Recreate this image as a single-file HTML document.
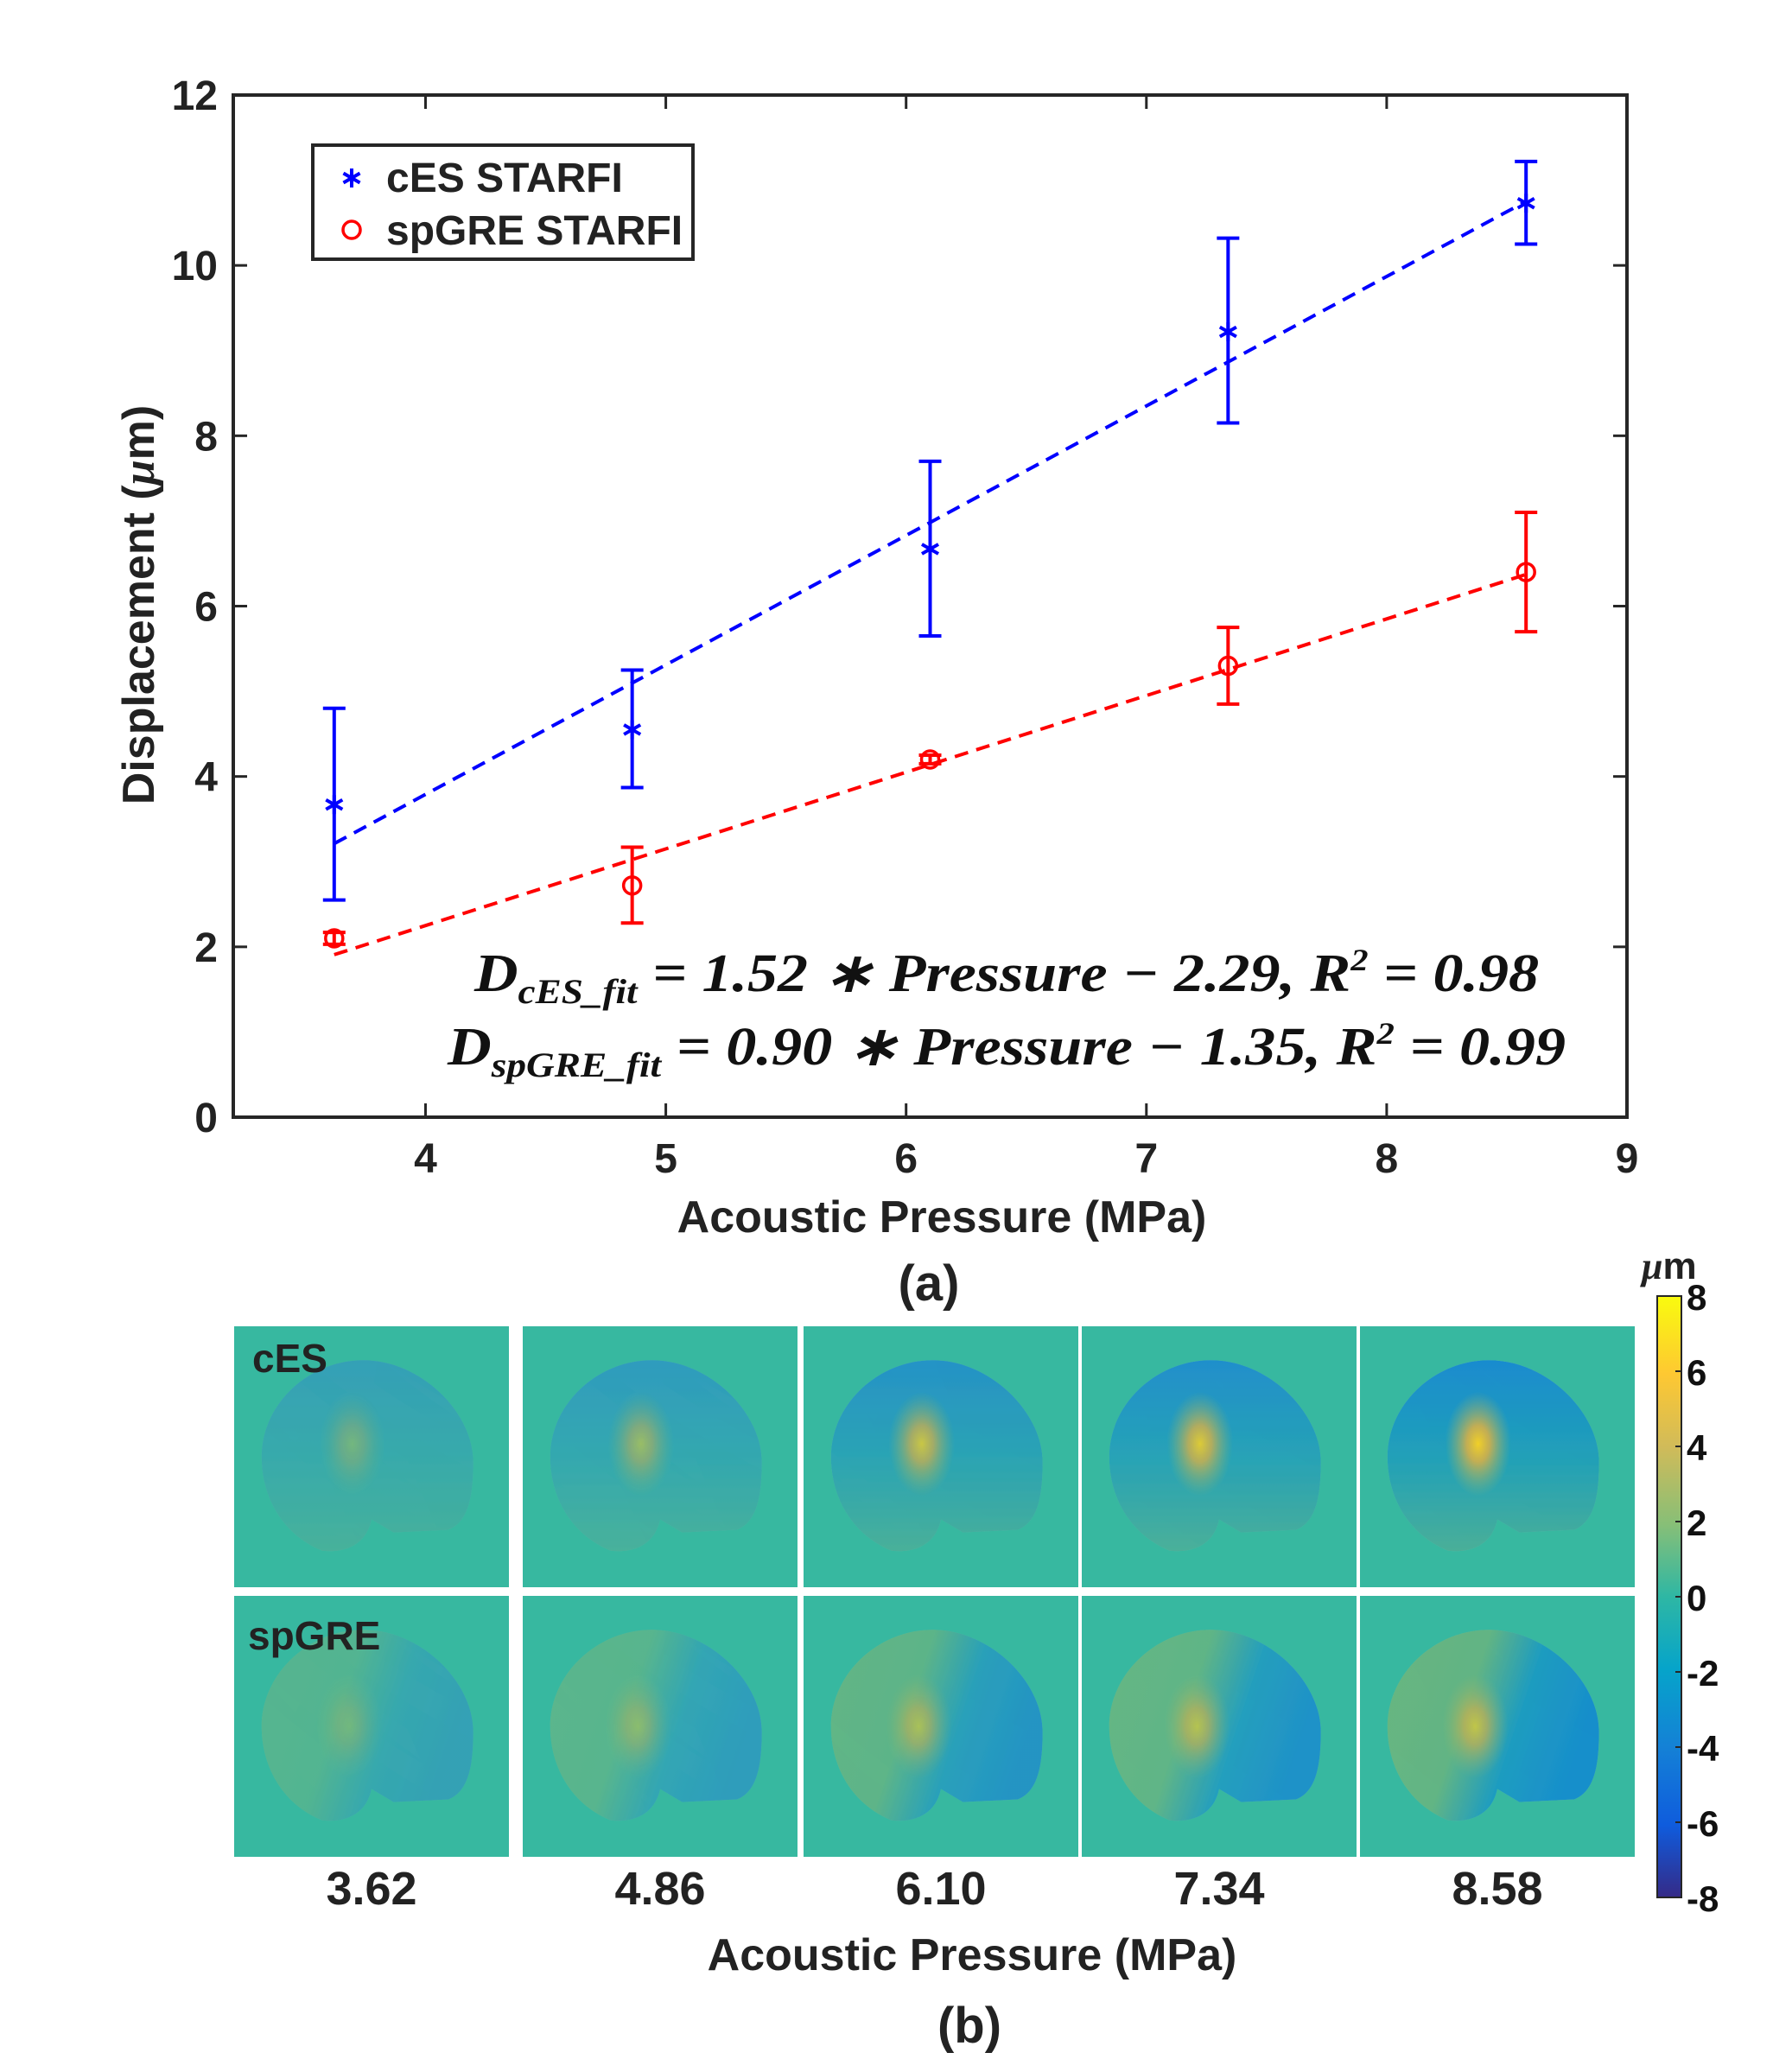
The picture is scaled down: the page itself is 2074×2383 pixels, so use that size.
<!DOCTYPE html>
<html><head><meta charset="utf-8">
<style>
html,body{margin:0;padding:0;background:#fff;}
svg{display:block;}
text{font-family:"Liberation Sans",Arial,sans-serif;font-weight:bold;fill:#222;}
.eq{font-family:"Liberation Serif",serif;font-style:italic;font-weight:bold;fill:#111;}
.cb{font-family:"Liberation Sans",sans-serif;font-weight:bold;fill:#111;}
</style></head>
<body>
<svg id="fig" width="2074" height="2383" viewBox="0 0 2074 2383" xmlns="http://www.w3.org/2000/svg">
<defs>
<linearGradient id="parula" x1="0" y1="1" x2="0" y2="0">
<stop offset="0" stop-color="#352a87"/><stop offset="0.12" stop-color="#0f5cdd"/>
<stop offset="0.25" stop-color="#1481d6"/><stop offset="0.38" stop-color="#06a4ca"/>
<stop offset="0.5" stop-color="#2eb7a4"/><stop offset="0.62" stop-color="#87bf77"/>
<stop offset="0.75" stop-color="#d1bb59"/><stop offset="0.87" stop-color="#fec832"/>
<stop offset="1" stop-color="#f9fb0e"/></linearGradient>
<radialGradient id="hot" cx="0.5" cy="0.5" r="0.5">
<stop offset="0" stop-color="#fbd92a"/><stop offset="0.35" stop-color="#e8b845" stop-opacity="0.85"/>
<stop offset="1" stop-color="#9cc070" stop-opacity="0"/></radialGradient>
<linearGradient id="sp" x1="0" y1="0" x2="1" y2="0.3">
<stop offset="0" stop-color="#6dbd86"/><stop offset="0.45" stop-color="#66bc8a"/><stop offset="0.7" stop-color="#1fa3c8"/><stop offset="1" stop-color="#1995d4"/></linearGradient>
<linearGradient id="ce" x1="0" y1="0" x2="0" y2="1">
<stop offset="0" stop-color="#1a92d8"/><stop offset="0.5" stop-color="#22a7c0"/><stop offset="1" stop-color="#4db69e"/></linearGradient>
<filter id="noise" x="0" y="0" width="100%" height="100%">
<feTurbulence type="fractalNoise" baseFrequency="0.12" numOctaves="1" seed="3" result="t"/>
<feColorMatrix type="saturate" values="0" in="t" result="g"/>
<feComponentTransfer in="g" result="a"><feFuncA type="linear" slope="0.35"/></feComponentTransfer>
<feComposite in="a" in2="SourceGraphic" operator="in" result="n"/>
<feBlend in="SourceGraphic" in2="n" mode="multiply"/>
</filter>
</defs>
<g id="chartA"></g>
<g id="chartB"></g>
</svg>
<script>
const NS='http://www.w3.org/2000/svg';
const pressures=[3.62,4.86,6.10,7.34,8.58];
const cesMean=[3.67,4.55,6.67,9.22,10.73];
const cesLow=[2.55,3.87,5.65,8.15,10.25];
const cesHigh=[4.80,5.25,7.70,10.32,11.22];
const spMean=[2.10,2.72,4.20,5.30,6.40];
const spLow=[2.03,2.28,4.15,4.85,5.70];
const spHigh=[2.17,3.17,4.25,5.75,7.10];
const fitSlope=[1.52,0.90];
const fitIntercept=[-2.29,-1.35];
const xTicks=[4,5,6,7,8,9];
const yTicks=[0,2,4,6,8,10,12];
const cbTicks=[8,6,4,2,0,-2,-4,-6,-8];
const mapLabels=['3.62','4.86','6.10','7.34','8.58'];
const hotStrength=[0.35,0.55,0.8,0.9,1.0];

const L=270,R=1883,T=110,B=1293,X0=3.2,X1=9,Y0=0,Y1=12;
const sx=v=>L+(v-X0)/(X1-X0)*(R-L);
const sy=v=>B-(v-Y0)/(Y1-Y0)*(B-T);
function el(tag,attrs,parent,txt){const e=document.createElementNS(NS,tag);for(const k in attrs)e.setAttribute(k,attrs[k]);if(txt!==undefined)e.textContent=txt;parent.appendChild(e);return e;}
const A=document.getElementById('chartA');
let e;
e=el('rect',{x:L,y:T,width:R-L,height:B-T,fill:'none',stroke:'#262626','stroke-width':4},A);


xTicks.forEach(v=>{
  e=el('line',{x1:sx(v),x2:sx(v),y1:B,y2:B-16,stroke:'#262626','stroke-width':3},A);
  
  
  el('line',{x1:sx(v),x2:sx(v),y1:T,y2:T+16,stroke:'#262626','stroke-width':3},A);
  e=el('text',{x:sx(v),y:B+64,'font-size':48,'text-anchor':'middle'},A,String(v));
  
  
});
yTicks.forEach(v=>{
  e=el('line',{x1:L,x2:L+16,y1:sy(v),y2:sy(v),stroke:'#262626','stroke-width':3},A);
  
  
  el('line',{x1:R,x2:R-16,y1:sy(v),y2:sy(v),stroke:'#262626','stroke-width':3},A);
  e=el('text',{x:L-18,y:sy(v)+17,'font-size':48,'text-anchor':'end'},A,String(v));
  
  
});
e=el('text',{x:1090,y:1426,'font-size':52,'text-anchor':'middle'},A,'Acoustic Pressure (MPa)');


e=el('text',{x:0,y:0,'font-size':52,'text-anchor':'middle',transform:'translate(178,700) rotate(-90)'},A,'');


el('tspan',{},e,'Displacement (');
el('tspan',{'font-family':'Liberation Serif, serif','font-style':'italic'},e,'μ');
el('tspan',{},e,'m)');
[[cesMean,'#0000ff',0],[spMean,'#ff0000',1]].forEach(([m,c,i])=>{
  const xa=pressures[0],xb=pressures[4];
  e=el('line',{x1:sx(xa),y1:sy(fitSlope[i]*xa+fitIntercept[i]),x2:sx(xb),y2:sy(fitSlope[i]*xb+fitIntercept[i]),stroke:c,'stroke-width':4,'stroke-dasharray':'16 10'},A);
  
  
});
function errbars(mean,lo,hi,c,name){
  pressures.forEach((p,i)=>{
    const x=sx(p);
    const g=el('g',{},A);
    
    
    el('line',{x1:x,x2:x,y1:sy(lo[i]),y2:sy(hi[i]),stroke:c,'stroke-width':4},g);
    el('line',{x1:x-13,x2:x+13,y1:sy(lo[i]),y2:sy(lo[i]),stroke:c,'stroke-width':4},g);
    el('line',{x1:x-13,x2:x+13,y1:sy(hi[i]),y2:sy(hi[i]),stroke:c,'stroke-width':4},g);
  });
}
errbars(cesMean,cesLow,cesHigh,'#0000ff','ces');
errbars(spMean,spLow,spHigh,'#ff0000','spgre');
function star(x,y,g,r){[0,60,120].forEach(a=>{const t=a*Math.PI/180;el('line',{x1:x-r*Math.sin(t),y1:y-r*Math.cos(t),x2:x+r*Math.sin(t),y2:y+r*Math.cos(t),stroke:'#0000ff','stroke-width':4},g);});}
pressures.forEach((p,i)=>{
  const g=el('g',{},A);
  
  
  star(sx(p),sy(cesMean[i]),g,11);
  e=el('circle',{cx:sx(p),cy:sy(spMean[i]),r:10,fill:'none',stroke:'#ff0000','stroke-width':3.5},A);
  
  
});
const lg=el('g',{},A);


el('rect',{x:362,y:168,width:440,height:132,fill:'#fff',stroke:'#262626','stroke-width':4},lg);
star(407,206,lg,11);
el('circle',{cx:407,cy:266,r:10,fill:'none',stroke:'#ff0000','stroke-width':3.5},lg);
el('text',{x:447,y:222,'font-size':48,fill:'#000'},lg,'cES STARFI');
el('text',{x:447,y:283,'font-size':48,fill:'#000'},lg,'spGRE STARFI');
function eq(x,y,len,sub,rest,name){
  const t=el('text',{x:x,y:y,'font-size':62,class:'eq',textLength:len,lengthAdjust:'spacingAndGlyphs'},A);
  
  
  el('tspan',{},t,'D');
  el('tspan',{'font-size':40,dy:14},t,sub);
  el('tspan',{dy:-14},t,rest[0]);
  el('tspan',{'font-size':36,dy:-24},t,'2');
  el('tspan',{dy:24},t,rest[1]);
}
eq(549,1147,1232,'cES_fit',[' = 1.52 ∗ Pressure − 2.29, R',' = 0.98'],'ces-fit-equation');
eq(518,1232,1294,'spGRE_fit',[' = 0.90 ∗ Pressure − 1.35, R',' = 0.99'],'spgre-fit-equation');
e=el('text',{x:1075,y:1505,'font-size':58,'text-anchor':'middle',fill:'#000'},A,'(a)');



const Bg=document.getElementById('chartB');
const colX=[271,605,930,1252,1574];
const rowY=[1535,1847];
const PW=318,PH=302;
const brain='M0.47,0.13 C0.68,0.13 0.87,0.33 0.87,0.52 C0.87,0.66 0.85,0.75 0.78,0.78 L0.58,0.79 L0.5,0.74 C0.48,0.84 0.4,0.87 0.32,0.86 C0.18,0.8 0.1,0.66 0.1,0.5 C0.1,0.3 0.27,0.13 0.47,0.13 Z';
rowY.forEach((ry,r)=>{
  colX.forEach((cx,c)=>{
    const g=el('g',{transform:`translate(${cx},${ry})`},Bg);
    
    
    el('rect',{x:0,y:0,width:PW,height:PH,fill:'#37b8a0'},g);
    const inner=el('g',{transform:`scale(${PW},${PH})`,filter:'url(#noise)'},g);
    el('path',{d:brain,fill:r?'url(#sp)':'url(#ce)','fill-opacity':0.55+0.45*hotStrength[c]},inner);
    el('path',{d:brain,fill:'#3ab49c','fill-opacity':0.45*(1-hotStrength[c])},inner);
    const s=hotStrength[c]*(r?0.7:1);
    el('ellipse',{cx:r?0.42:0.43,cy:r?0.5:0.45,rx:0.12,ry:0.2,fill:'url(#hot)',opacity:s},inner);
  });
});
e=el('text',{x:292,y:1588,'font-size':46,fill:'#000'},Bg,'cES');


e=el('text',{x:287,y:1909,'font-size':46,fill:'#000'},Bg,'spGRE');


mapLabels.forEach((lb,c)=>{
  e=el('text',{x:colX[c]+PW/2,y:2204,'font-size':54,'text-anchor':'middle',fill:'#000'},Bg,lb);
  
  
});
e=el('text',{x:1125,y:2280,'font-size':52,'text-anchor':'middle'},Bg,'Acoustic Pressure (MPa)');


e=el('text',{x:1122,y:2364,'font-size':58,'text-anchor':'middle',fill:'#000'},Bg,'(b)');


const CBX=1918,CBW=28,CBT=1500,CBB=2196;
e=el('rect',{x:CBX,y:CBT,width:CBW,height:CBB-CBT,fill:'url(#parula)',stroke:'#262626','stroke-width':2},Bg);


const cy=v=>CBB-(v+8)/16*(CBB-CBT);
cbTicks.forEach(v=>{
  el('line',{x1:CBX+CBW-7,x2:CBX+CBW,y1:cy(v),y2:cy(v),stroke:'#262626','stroke-width':2},Bg);
  e=el('text',{x:CBX+34,y:cy(v)+16,'font-size':42,class:'cb'},Bg,String(v));
  
  
});
e=el('text',{x:1900,y:1480,'font-size':44,fill:'#222'},Bg,'');


el('tspan',{'font-family':'Liberation Serif, serif','font-style':'italic'},e,'μ');
el('tspan',{},e,'m');
</script>
</body></html>
